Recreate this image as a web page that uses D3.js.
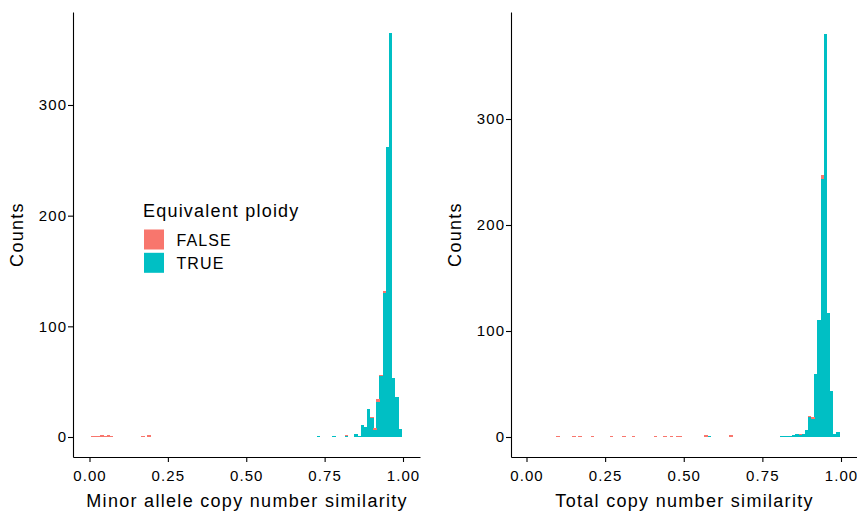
<!DOCTYPE html>
<html>
<head>
<meta charset="utf-8">
<script src="https://cdn.jsdelivr.net/npm/d3@7"></script>
<style>
  html, body { margin: 0; padding: 0; background: #ffffff; }
  svg { display: block; }
  text { font-family: "Liberation Sans", Arial, Helvetica, sans-serif; fill: #000; }
</style>
</head>
<body>
<svg id="chart" width="857" height="511"></svg>
<script>
// ---------------- DATA ----------------
const binWidth = 0.01;
const xTicks = [0, 0.25, 0.5, 0.75, 1];
const yTicks = [0, 100, 200, 300];
const legendTitle = "Equivalent ploidy";
const groups = ["FALSE", "TRUE"];
const groupColors = ["#F8766D", "#00BFC4"];

// Left panel: Minor allele copy number similarity (bin centres)
const leftCenters = [0.01,0.02,0.03,0.04,0.05,0.06,0.07,0.17,0.19,0.73,0.78,0.82,
  0.85,0.86,0.87,0.88,0.89,0.90,0.91,0.92,0.93,0.94,0.95,0.96,0.97,0.98,0.99];
const leftTrue  = [0,0,0,0,0,0,0,0,0,1,1,1,
  3,1,11,9,25,17,6,32,55,130,262,365,53,36,7];
const leftFalse = [1,1,1,2,1,2,1,1,2,0,0,1,
  0,0,0,0,0,1,2,2,1,2,0,0,0,0,0];

// Right panel: Total copy number similarity (bin centres)
const rightCenters = [0.10,0.15,0.17,0.21,0.27,0.31,0.34,0.41,0.44,0.46,0.48,0.49,
  0.57,0.58,0.65,
  0.81,0.82,0.83,0.84,0.85,0.86,0.87,0.88,0.89,0.90,0.91,0.92,0.93,0.94,0.95,0.96,0.97,0.98,0.99];
const rightTrue  = [0,0,0,0,0,0,0,0,0,0,0,0,
  0,1,0,
  1,1,1,1,2,3,2,3,7,19,17,59,110,243,380,117,43,3,5];
const rightFalse = [1,1,1,1,1,1,1,1,1,1,1,1,
  2,0,2,
  0,0,0,0,0,0,1,0,0,1,2,0,0,4,0,0,0,0,0];

// ---------------- DRAW ----------------
const svg = d3.select("#chart");
svg.append("rect").attr("width", 857).attr("height", 511).attr("fill", "#fff");

function panel(cfg) {
  const g = svg.append("g");
  const x = d3.scaleLinear().domain(cfg.xDomain).range([cfg.left, cfg.right]);
  const y = d3.scaleLinear().domain(cfg.yDomain).range([cfg.bottom, cfg.top]);

  const rows = cfg.centers.map((c, i) => ({ c, t: cfg.tr[i], f: cfg.fa[i] }));

  // TRUE (bottom of stack)
  g.append("g").attr("shape-rendering", "crispEdges")
    .selectAll("rect").data(rows.filter(d => d.t > 0)).join("rect")
    .attr("x", d => x(d.c - binWidth / 2))
    .attr("width", d => x(d.c + binWidth / 2) - x(d.c - binWidth / 2) + 0.3)
    .attr("y", d => y(d.t))
    .attr("height", d => y(0) - y(d.t))
    .attr("fill", groupColors[1]);
  // FALSE (stacked on top)
  g.append("g").attr("shape-rendering", "crispEdges")
    .selectAll("rect").data(rows.filter(d => d.f > 0)).join("rect")
    .attr("x", d => x(d.c - binWidth / 2))
    .attr("width", d => x(d.c + binWidth / 2) - x(d.c - binWidth / 2) + 0.3)
    .attr("y", d => y(d.t + d.f))
    .attr("height", d => y(d.t) - y(d.t + d.f))
    .attr("fill", groupColors[0]);

  // x axis
  const xa = g.append("g").attr("transform", `translate(0,${cfg.bottom})`)
    .call(d3.axisBottom(x).tickValues(xTicks).tickFormat(d3.format(".2f"))
      .tickSize(5).tickSizeOuter(0).tickPadding(8));
  // y axis
  const ya = g.append("g").attr("transform", `translate(${cfg.left},0)`)
    .call(d3.axisLeft(y).tickValues(yTicks).tickFormat(d3.format("d"))
      .tickSize(5).tickSizeOuter(0).tickPadding(2));
  [xa, ya].forEach(a => {
    a.select(".domain").attr("stroke", "#000").attr("stroke-width", 1.1);
    a.selectAll(".tick line").attr("stroke", "#000").attr("stroke-width", 1.1);
    a.selectAll(".tick text").attr("fill", "#000").style("font-size", "15px")
      .style("letter-spacing", "1.1px")
      .style("font-family", '"Liberation Sans", Arial, sans-serif');
  });
  ya.selectAll(".tick text").attr("dx", "1.1px");

  // axis titles
  g.append("text")
    .attr("x", (cfg.left + cfg.right) / 2 + 0.6).attr("y", 506.5)
    .attr("text-anchor", "middle")
    .style("font-size", "18px").style("letter-spacing", "1.3px")
    .text(cfg.xTitle);
  g.append("text")
    .attr("transform", `translate(${cfg.yTitleX},${(cfg.top + cfg.bottom) / 2}) rotate(-90)`)
    .attr("text-anchor", "middle")
    .style("font-size", "18px").style("letter-spacing", "1.3px")
    .text("Counts");
}

panel({
  left: 73, right: 420, top: 12, bottom: 457,
  xDomain: [(73 - 89.5) / 313.5, (420 - 89.5) / 313.5],
  yDomain: [-20 / 1.1067, 425 / 1.1067],
  centers: leftCenters, tr: leftTrue, fa: leftFalse,
  xTitle: "Minor allele copy number similarity", yTitleX: 23
});
panel({
  left: 511, right: 857, top: 12, bottom: 457,
  xDomain: [(511 - 526.5) / 314.5, (857 - 526.5) / 314.5],
  yDomain: [-20 / 1.06, 425 / 1.06],
  centers: rightCenters, tr: rightTrue, fa: rightFalse,
  xTitle: "Total copy number similarity", yTitleX: 461
});

// legend
const lg = svg.append("g");
lg.append("text").attr("x", 143).attr("y", 216.5)
  .style("font-size", "18px").style("letter-spacing", "1.2px").text(legendTitle);
const keyTop = [229.5, 252.8];
const order = [0, 1];
order.forEach((gi, k) => {
  lg.append("rect").attr("x", 144).attr("y", keyTop[k]).attr("width", 20).attr("height", 20)
    .attr("fill", groupColors[gi]);
  lg.append("text").attr("x", 176.5).attr("y", keyTop[k] + 16.6)
    .style("font-size", "16px").style("letter-spacing", "1.1px").text(groups[gi]);
});
</script>
</body>
</html>
